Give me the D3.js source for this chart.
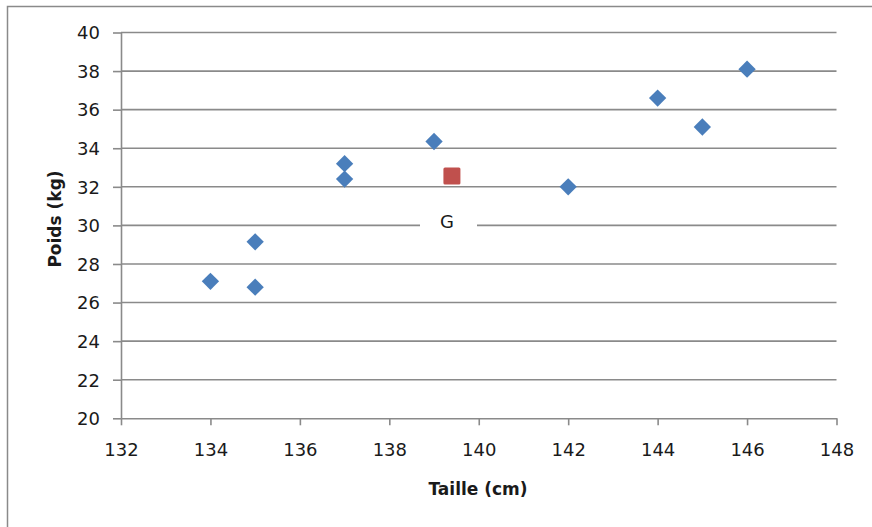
<!DOCTYPE html>
<html>
<head>
<meta charset="utf-8">
<script src="https://cdn.jsdelivr.net/npm/d3@7"></script>
<style>
  body { margin: 0; background: #fff; }
  svg { display: block; }
  text { font-family: "DejaVu Sans", Verdana, sans-serif; fill: #1a1a1a; }
</style>
</head>
<body>
<div id="chart"></div>
<script>
// mesures des élèves
var taille = [134, 135, 135, 137, 137, 139, 142, 144, 145, 146];
var poids = [27.1, 26.8, 29.15, 33.2, 32.4, 34.35, 32.0, 36.6, 35.1, 38.1];

// point moyen G
var gTaille = 139.4, gPoids = 32.56;

var xTicks = [132, 134, 136, 138, 140, 142, 144, 146, 148];
var yTicks = [20, 22, 24, 26, 28, 30, 32, 34, 36, 38, 40];

var W = 872, H = 527;

var x = d3.scaleLinear().domain([132, 148]).range([121, 836.5]);
var y = d3.scaleLinear().domain([20, 40]).range([418.3, 32.5]);

var svg = d3.select("#chart").append("svg")
    .attr("width", W)
    .attr("height", H);

// cadre extérieur
svg.append("rect")
    .attr("x", 7.5).attr("y", 6.5)
    .attr("width", 900).attr("height", 600)
    .attr("fill", "none")
    .attr("stroke", "#8a8a8a")
    .attr("stroke-width", 1.5);

// quadrillage horizontal
svg.append("g")
    .selectAll("line")
    .data(yTicks.slice(1))
    .enter().append("line")
    .attr("x1", x(132)).attr("x2", x(148))
    .attr("y1", function(d) { return y(d); })
    .attr("y2", function(d) { return y(d); })
    .attr("stroke", "#8a8a8a")
    .attr("stroke-width", 1.6);

var xAxis = d3.axisBottom(x).tickValues(xTicks).tickSize(7).tickSizeOuter(0).tickPadding(18);
var yAxis = d3.axisLeft(y).tickValues(yTicks).tickSize(8).tickSizeOuter(0).tickPadding(13);

var gx = svg.append("g")
    .attr("transform", "translate(0," + y(20) + ")")
    .call(xAxis);

var gy = svg.append("g")
    .attr("transform", "translate(" + x(132) + ",0)")
    .call(yAxis);

[gx, gy].forEach(function(g) {
  g.selectAll("path, line").attr("stroke", "#8a8a8a").attr("stroke-width", 1.6);
  g.selectAll("text")
      .style("font-family", "'DejaVu Sans', Verdana, sans-serif")
      .style("font-size", "18px")
      .attr("fill", "#1a1a1a");
});
gy.selectAll("text").attr("dy", "0.35em");

// titres des axes
svg.append("text")
    .attr("x", 478).attr("y", 495)
    .attr("text-anchor", "middle")
    .style("font-size", "17px")
    .style("font-weight", "bold")
    .text("Taille (cm)");

svg.append("text")
    .attr("transform", "translate(61,219) rotate(-90)")
    .attr("text-anchor", "middle")
    .style("font-size", "17px")
    .style("font-weight", "bold")
    .text("Poids (kg)");

// étiquette G avec fond blanc
svg.append("rect")
    .attr("x", 420).attr("y", 210)
    .attr("width", 57).attr("height", 24)
    .attr("fill", "#fff");

svg.append("text")
    .attr("x", 447).attr("y", 228)
    .attr("text-anchor", "middle")
    .style("font-size", "18px")
    .text("G");

// nuage de points
var points = taille.map(function(t, i) { return {x: t, y: poids[i]}; });

svg.append("g")
    .selectAll("path")
    .data(points)
    .enter().append("path")
    .attr("d", d3.symbol().type(d3.symbolSquare).size(150))
    .attr("transform", function(d) {
      return "translate(" + x(d.x) + "," + y(d.y) + ") rotate(45)";
    })
    .attr("fill", "#4a7ebb");

svg.append("rect")
    .attr("x", x(gTaille) - 8.5).attr("y", y(gPoids) - 8.5)
    .attr("width", 17).attr("height", 17)
    .attr("rx", 1.5)
    .attr("fill", "#c0504d");
</script>
</body>
</html>
